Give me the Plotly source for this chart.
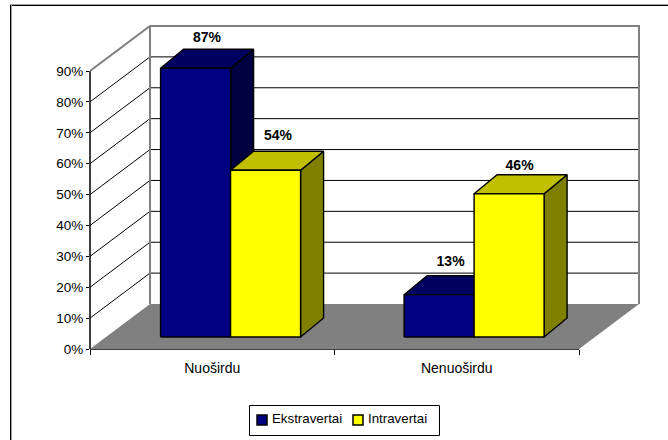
import plotly.graph_objects as go

categories = ["Nuoširdu", "Nenuoširdu"]
series_names = ["Ekstravertai", "Intravertai"]
extravert_values = [87, 13.7]
introvert_values = [54, 46.4]
extravert_labels = ["87%", "13%"]
introvert_labels = ["54%", "46%"]
y_ticks = [0, 10, 20, 30, 40, 50, 60, 70, 80, 90]

FRONT = ["#000080", "#FFFF00"]
TOP = ["#000060", "#C0C000"]
SIDE = ["#000040", "#808000"]
FLOOR = "#808080"
FONT = "Liberation Sans, Arial, sans-serif"

# plot-area geometry (pixels)
W, H = 668, 440
L, R, T, B = 90, 28, 20, 91
PW, PH = W - L - R, H - T - B
PX_X = 244.5          # pixels per category
PX_Y = 278 / 90       # pixels per percent
xmax = PW / PX_X
ymax = PH / PX_Y

def dx(px):
    return px / PX_X

def dy(px):
    return px / PX_Y

def px_x(px):          # page pixel -> paper x
    return (px - L) / PW

def px_y(py):          # page pixel -> paper y
    return (H - B - py) / PH

WALL_DX, WALL_DY = dx(60), dy(45)
BAR_DX, BAR_DY = dx(23), dy(19)
BASE_DX, BASE_DY = dx(16), dy(12)
BAR_W = 70 / PX_X
CENTERS = [0.5095, 1.5055]
LAST = len(categories)
TOP_TICK = y_ticks[-1]
# label placement above each bar, pixels: [series][category]
LABEL_LIFT = [[4, 6], [8, 1]]
LABEL_SHIFT = [[0, 0], [1, -1]]

fig = go.Figure()
shapes = []
annotations = []

def poly(points):
    return "M" + "L".join(f"{x},{y}" for x, y in points) + "Z"

# floor
shapes.append(dict(type="path", layer="below", xref="x", yref="y", line=dict(width=0),
                   fillcolor=FLOOR,
                   path=poly([(0, 0), (WALL_DX, WALL_DY), (LAST + WALL_DX, WALL_DY), (LAST, 0)])))
# grid
for t in y_ticks[1:-1]:
    shapes.append(dict(type="line", layer="below", xref="x", yref="y", x0=0, y0=t,
                       x1=WALL_DX, y1=t + WALL_DY, line=dict(color="black", width=1)))
    shapes.append(dict(type="line", layer="below", xref="x", yref="y", x0=WALL_DX, y0=t + WALL_DY,
                       x1=LAST + WALL_DX, y1=t + WALL_DY, line=dict(color="black", width=1)))
# wall outline
shapes.append(dict(type="path", layer="below", xref="x", yref="y",
                   line=dict(color=FLOOR, width=2),
                   path="M0,{t}L{a},{b}L{c},{b}L{c},{w}M{a},{b}L{a},{w}".format(
                       t=TOP_TICK, a=WALL_DX, b=TOP_TICK + WALL_DY, c=LAST + WALL_DX, w=WALL_DY)))
# axis lines
shapes.append(dict(type="line", layer="below", xref="paper", yref="y", x0=0, x1=0, y0=0, y1=TOP_TICK,
                   line=dict(color="black", width=1.5)))
shapes.append(dict(type="line", layer="below", xref="x", yref="paper", x0=0, x1=LAST, y0=0, y1=0,
                   line=dict(color="black", width=1.5)))
# frame: only the top and left edges are visible in the picture
for (x0, y0, x1, y1, col) in [
    (10, 4.5, W, 4.5, "#A0A0A0"), (10, 5.5, W, 5.5, "black"),
    (11.5, 5, 11.5, H, "#A0A0A0"), (10.5, 5, 10.5, H, "black"),
]:
    shapes.append(dict(type="line", layer="below", xref="paper", yref="paper",
                       x0=px_x(x0), x1=px_x(x1), y0=px_y(y0), y1=px_y(y1),
                       line=dict(color=col, width=1)))

# legend box
shapes.append(dict(type="rect", xref="paper", yref="paper",
                   x0=px_x(249.5), x1=px_x(439.5), y0=px_y(405.5), y1=px_y(435.5),
                   fillcolor="white", line=dict(color="black", width=1)))
for s, (sx, tx) in enumerate([(257, 271), (353, 367)]):
    shapes.append(dict(type="rect", xref="paper", yref="paper",
                       x0=px_x(sx), x1=px_x(sx + 10), y0=px_y(415), y1=px_y(425),
                       fillcolor=FRONT[s], line=dict(color="black", width=1.5)))
    annotations.append(dict(xref="paper", yref="paper", x=px_x(tx), y=px_y(418.5),
                            xanchor="left", yanchor="middle", showarrow=False,
                            text=series_names[s], borderpad=0,
                            font=dict(family=FONT, size=13.3, color="black")))

def face(points, color):
    xs = [p[0] for p in points] + [points[0][0]]
    ys = [p[1] for p in points] + [points[0][1]]
    fig.add_trace(go.Scatter(x=xs, y=ys, mode="lines", fill="toself", fillcolor=color,
                             line=dict(color="black", width=1.4), showlegend=False, hoverinfo="skip"))

all_values = [extravert_values, introvert_values]
all_labels = [extravert_labels, introvert_labels]
for c, center in enumerate(CENTERS):
    for s in range(2):
        x0 = center + (s - 1) * BAR_W + BASE_DX
        x1 = x0 + BAR_W
        y0 = BASE_DY
        y1 = y0 + all_values[s][c]
        face([(x1, y0), (x1 + BAR_DX, y0 + BAR_DY), (x1 + BAR_DX, y1 + BAR_DY), (x1, y1)], SIDE[s])
        face([(x0, y1), (x0 + BAR_DX, y1 + BAR_DY), (x1 + BAR_DX, y1 + BAR_DY), (x1, y1)], TOP[s])
        face([(x0, y0), (x1, y0), (x1, y1), (x0, y1)], FRONT[s])

# data labels
for s in range(2):
    fig.add_trace(go.Scatter(
        x=[CENTERS[c] + (s - 0.5) * BAR_W + BASE_DX + BAR_DX / 2 + dx(LABEL_SHIFT[s][c]) for c in range(2)],
        y=[BASE_DY + all_values[s][c] + BAR_DY + dy(LABEL_LIFT[s][c]) for c in range(2)],
        mode="text", text=all_labels[s], textposition="top center",
        textfont=dict(family=FONT, size=14, color="black", weight="bold"),
        showlegend=False, hoverinfo="skip"))

fig.update_layout(
    width=W, height=H, margin=dict(l=L, r=R, t=T, b=B, autoexpand=False),
    paper_bgcolor="white", plot_bgcolor="white",
    font=dict(family=FONT, size=13, color="black"),
    shapes=shapes, annotations=annotations, showlegend=False,
    xaxis=dict(range=[0, xmax], showgrid=False, zeroline=False, showline=False,
               tickmode="array", tickvals=[i + 0.5 for i in range(LAST)], ticktext=categories,
               ticks="", ticklabelstandoff=9, tickfont=dict(family=FONT, size=14),
               minor=dict(tickmode="array", tickvals=list(range(LAST + 1)), ticks="outside",
                          ticklen=5, tickcolor="black", tickwidth=1, showgrid=False)),
    yaxis=dict(range=[0, ymax], showgrid=False, zeroline=False, showline=False,
               tickmode="array", tickvals=y_ticks, ticktext=[f"{t}%" for t in y_ticks],
               ticks="outside", ticklen=3, tickcolor="black", tickwidth=1,
               tickfont=dict(family=FONT, size=13.5)),
)

fig.write_html("out.html", config={"displayModeBar": False},
               post_script="document.body.style.margin='0';document.body.style.overflow='hidden';")
